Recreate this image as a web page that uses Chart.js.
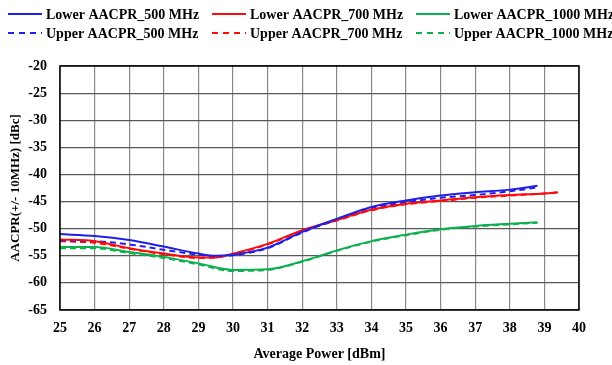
<!DOCTYPE html>
<html>
<head>
<meta charset="utf-8">
<script src="https://cdn.jsdelivr.net/npm/chart.js@4/dist/chart.umd.min.js"></script>
<style>
  html, body { margin: 0; padding: 0; background: #ffffff; }
  #wrap { width: 612px; height: 365px; }
</style>
</head>
<body>
<div id="wrap"><canvas id="c" width="612" height="365"></canvas></div>
<script>
// Average power sweep points (dBm) for each carrier frequency
const power500  = [25, 26, 27, 28, 29, 29.5, 30, 31, 32, 33, 34, 35, 36, 37, 38, 38.8];
const power700  = [25, 26, 27, 28, 29, 29.5, 30, 31, 32, 33, 34, 35, 36, 37, 38, 39, 39.4];
const power1000 = [25, 26, 27, 28, 29, 30, 31, 32, 33, 34, 35, 36, 37, 38, 38.8];

// Adjacent-channel power ratio (dBc)
const lower500  = [-51.0, -51.35, -52.1, -53.3, -54.6, -55.0, -54.8, -53.5, -50.6, -48.2, -46.0, -44.8, -43.9, -43.3, -42.8, -42.1];
const upper500  = [-52.2, -52.3, -52.9, -53.9, -54.8, -55.1, -54.9, -53.6, -50.7, -48.3, -46.2, -45.1, -44.3, -43.8, -43.1, -42.4];
const lower700  = [-52.0, -52.3, -53.6, -54.6, -55.3, -55.3, -54.6, -52.8, -50.3, -48.4, -46.5, -45.4, -44.8, -44.2, -43.8, -43.5, -43.3];
const upper700  = [-52.3, -52.6, -53.7, -54.7, -55.4, -55.3, -54.7, -52.9, -50.4, -48.5, -46.6, -45.5, -44.9, -44.3, -43.9, -43.5, -43.3];
const lower1000 = [-53.4, -53.4, -54.3, -55.2, -56.4, -57.6, -57.5, -56.0, -54.0, -52.3, -51.1, -50.1, -49.5, -49.1, -48.8];
const upper1000 = [-53.6, -53.6, -54.5, -55.4, -56.6, -57.8, -57.6, -56.1, -54.1, -52.4, -51.2, -50.2, -49.6, -49.2, -48.9];

const seriesLabels = [
  'Lower AACPR_500 MHz', 'Lower AACPR_700 MHz', 'Lower AACPR_1000 MHz',
  'Upper AACPR_500 MHz', 'Upper AACPR_700 MHz', 'Upper AACPR_1000 MHz'
];

// Axis ranges and tick spacing
const xTicks = { min: 25, max: 40, step: 1 };
const yTicks = { min: -65, max: -20, step: 5 };

const BLUE = '#1f1fe6', RED = '#ff0a0a', GREEN = '#0db04e';
const FONT = "'Liberation Serif', 'Times New Roman', serif";

function pts(xs, ys) { return xs.map((x, i) => ({ x: x, y: ys[i] })); }

function line(label, data, color, dashed) {
  return {
    label: label,
    data: data,
    borderColor: color,
    backgroundColor: color,
    borderWidth: 2,
    borderDash: dashed ? [6, 4] : [],
    pointRadius: 0,
    fill: false,
    cubicInterpolationMode: 'monotone'
  };
}

const datasets = [
  line(seriesLabels[0], pts(power500, lower500), BLUE, false),
  line(seriesLabels[1], pts(power700, lower700), RED, false),
  line(seriesLabels[2], pts(power1000, lower1000), GREEN, false),
  line(seriesLabels[3], pts(power500, upper500), BLUE, true),
  line(seriesLabels[4], pts(power700, upper700), RED, true),
  line(seriesLabels[5], pts(power1000, upper1000), GREEN, true)
];

// Two-row, three-column legend drawn above the plot
const gridLegend = {
  id: 'gridLegend',
  afterDraw(chart) {
    const ctx = chart.ctx;
    const colX = [8, 212, 416];
    const rowY = [14, 33];
    ctx.save();
    ctx.font = 'bold 14px ' + FONT;
    ctx.textBaseline = 'middle';
    ctx.textAlign = 'left';
    chart.data.datasets.forEach((ds, i) => {
      const col = i % 3, row = Math.floor(i / 3);
      const x = colX[col], y = rowY[row];
      ctx.strokeStyle = ds.borderColor;
      ctx.lineWidth = 2;
      ctx.setLineDash(ds.borderDash.length ? [6, 5] : []);
      ctx.beginPath();
      ctx.moveTo(x, y);
      ctx.lineTo(x + 34, y);
      ctx.stroke();
      ctx.setLineDash([]);
      ctx.fillStyle = '#000000';
      ctx.fillText(ds.label, x + 38, y + 1);
    });
    ctx.restore();
  }
};

// Black frame around the plotting area
const plotFrame = {
  id: 'plotFrame',
  afterDatasetsDraw(chart) {
    const a = chart.chartArea, ctx = chart.ctx;
    ctx.save();
    ctx.strokeStyle = '#000000';
    ctx.lineWidth = 1.5;
    ctx.strokeRect(a.left, a.top, a.right - a.left, a.bottom - a.top);
    ctx.restore();
  }
};

new Chart(document.getElementById('c'), {
  type: 'line',
  data: { datasets: datasets },
  plugins: [gridLegend, plotFrame],
  options: {
    responsive: false,
    animation: false,
    devicePixelRatio: 1,
    layout: { padding: { top: 66, right: 33, left: 0, bottom: 0 } },
    plugins: { legend: { display: false }, tooltip: { enabled: false } },
    scales: {
      x: {
        type: 'linear',
        min: xTicks.min, max: xTicks.max,
        ticks: {
          stepSize: xTicks.step,
          color: '#000000',
          font: { family: FONT, size: 14, weight: 'bold' },
          padding: 10,
          maxRotation: 0
        },
        grid: { color: '#8a8a8a', lineWidth: 1.2, drawTicks: false },
        border: { display: false },
        title: {
          display: true,
          text: 'Average Power [dBm]',
          color: '#000000',
          font: { family: FONT, size: 14, weight: 'bold' },
          padding: { top: 0, bottom: 2 }
        },
        afterFit(scale) { scale.height = 55; }
      },
      y: {
        type: 'linear',
        min: yTicks.min, max: yTicks.max,
        ticks: {
          stepSize: yTicks.step,
          color: '#000000',
          font: { family: FONT, size: 14, weight: 'bold' },
          padding: 13
        },
        grid: { color: '#595959', lineWidth: 1.2, drawTicks: false },
        border: { display: false },
        title: {
          display: true,
          text: 'AACPR(+/- 10MHz) [dBc]',
          color: '#000000',
          font: { family: FONT, size: 13, weight: 'bold' },
          padding: { top: 8, bottom: 0 }
        },
        afterFit(scale) { scale.width = 60; }
      }
    }
  }
});
</script>
</body>
</html>
